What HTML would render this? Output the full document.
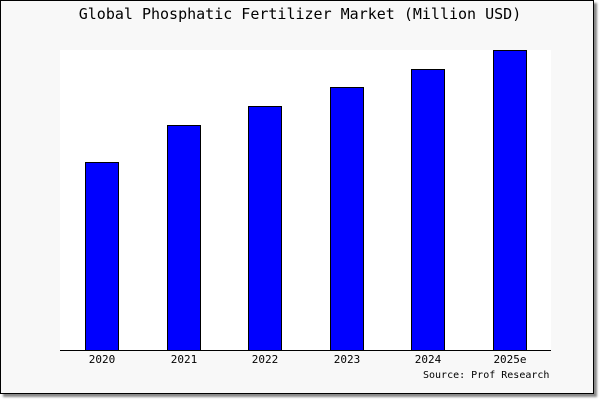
<!DOCTYPE html>
<html><head><style>
body{margin:0;width:600px;height:400px;background:#fff;position:relative;overflow:hidden;font-family:"DejaVu Sans Mono","Liberation Mono",monospace;}
.frame{position:absolute;left:0;top:0;width:592px;height:392px;border:1px solid #000;background:#f8f8f8;box-shadow:3px 3px 2px #888;}
.plot{position:absolute;left:60px;top:50px;width:491px;height:300px;background:#fff;}
.axis{position:absolute;left:60px;top:350px;width:491px;height:1px;background:#000;}
.bar{position:absolute;background:#00f;border:1px solid #000;box-sizing:border-box;width:34px;}
.lbl{position:absolute;top:353px;font-size:11px;width:60px;text-align:center;color:#000;}
.title{position:absolute;top:5px;left:0;width:600px;text-align:center;font-size:15px;}
.src{position:absolute;top:370px;left:423px;font-size:10px;}
</style></head><body>
<div class="frame"></div>
<div class="plot"></div>
<div class="title">Global Phosphatic Fertilizer Market (Million USD)</div>
<div class="bar" style="left:85px;top:162px;height:189px"></div>
<div class="bar" style="left:167px;top:125px;height:226px"></div>
<div class="bar" style="left:248px;top:106px;height:245px"></div>
<div class="bar" style="left:330px;top:87px;height:264px"></div>
<div class="bar" style="left:411px;top:69px;height:282px"></div>
<div class="bar" style="left:493px;top:50px;height:301px"></div>
<div class="axis"></div>
<div class="lbl" style="left:72px">2020</div>
<div class="lbl" style="left:154px">2021</div>
<div class="lbl" style="left:235px">2022</div>
<div class="lbl" style="left:317px">2023</div>
<div class="lbl" style="left:398px">2024</div>
<div class="lbl" style="left:480px">2025e</div>
<div class="src">Source: Prof Research</div>
</body></html>
